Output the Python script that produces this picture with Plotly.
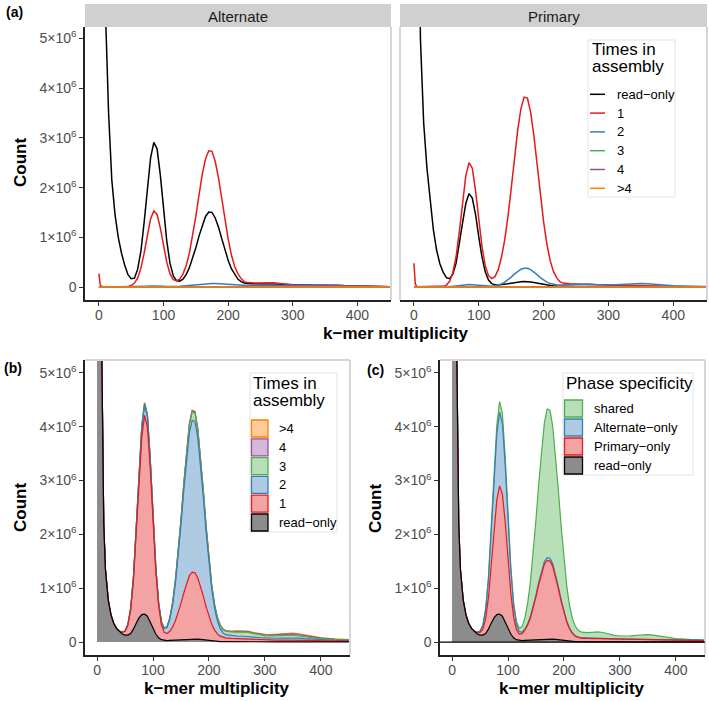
import plotly.graph_objects as go

# ------------------------------------------------------------------
# Data (counts in units of 10^6)
# ------------------------------------------------------------------
mult = [0, 2, 4, 6, 8, 10, 12, 15, 20, 25,
        30, 35, 40, 45, 50, 55, 60, 65, 70, 75,
        80, 85, 90, 95, 100, 105, 110, 115, 120, 125,
        130, 135, 140, 145, 150, 155, 160, 165, 170, 175,
        180, 185, 190, 195, 200, 205, 210, 215, 220, 225,
        230, 240, 250, 260, 270, 280, 290, 300, 310, 320,
        330, 340, 350, 360, 370, 380, 390, 400, 425, 450]

# sparse grid for the near-zero series of panel (a)
mult_sparse = [0, 50, 100, 150, 175, 200, 250, 300, 350, 400, 450]

# (a) Alternate facet
alt_read = [60, 40, 24, 14, 8.5, 5.6, 4.6, 3.5, 2.15, 1.45,
            1.0, 0.68, 0.44, 0.25, 0.17, 0.18, 0.36, 0.72, 1.3, 1.99,
            2.6, 2.91, 2.78, 2.26, 1.57, 0.93, 0.48, 0.23, 0.13, 0.12,
            0.16, 0.25, 0.39, 0.57, 0.79, 1.03, 1.25, 1.42, 1.51, 1.5,
            1.39, 1.21, 0.98, 0.75, 0.54, 0.37, 0.25, 0.16, 0.11, 0.08,
            0.07, 0.06, 0.06, 0.06, 0.055, 0.05, 0.045, 0.04, 0.035, 0.032,
            0.03, 0.03, 0.03, 0.028, 0.025, 0.022, 0.02, 0.018, 0.012, 0.008]
alt_one = [0.27, 0.05, 0.015, 0.005, 0.005, 0.005, 0.005, 0.005, 0.005, 0.005,
           0.005, 0.005, 0.005, 0.01, 0.03, 0.08, 0.18, 0.38, 0.68, 1.04,
           1.37, 1.53, 1.46, 1.19, 0.83, 0.5, 0.27, 0.15, 0.13, 0.16,
           0.26, 0.43, 0.68, 1.02, 1.42, 1.86, 2.27, 2.58, 2.74, 2.73,
           2.53, 2.2, 1.78, 1.35, 0.97, 0.65, 0.42, 0.27, 0.17, 0.11,
           0.09, 0.08, 0.085, 0.09, 0.085, 0.07, 0.055, 0.045, 0.04, 0.04,
           0.045, 0.05, 0.05, 0.045, 0.04, 0.03, 0.025, 0.02, 0.012, 0.008]
alt_two = [0.003, 0.003, 0.003, 0.003, 0.003, 0.003, 0.003, 0.003, 0.003, 0.003,
           0.003, 0.003, 0.003, 0.003, 0.003, 0.005, 0.008, 0.011, 0.015, 0.018,
           0.02, 0.022, 0.021, 0.018, 0.015, 0.012, 0.01, 0.01, 0.012, 0.015,
           0.02, 0.027, 0.035, 0.043, 0.05, 0.058, 0.065, 0.07, 0.075, 0.074,
           0.07, 0.065, 0.06, 0.053, 0.045, 0.04, 0.035, 0.032, 0.03, 0.03,
           0.03, 0.035, 0.04, 0.045, 0.04, 0.035, 0.03, 0.028, 0.028, 0.03,
           0.033, 0.035, 0.035, 0.032, 0.028, 0.022, 0.018, 0.015, 0.01, 0.007]
alt_three = [0.002, 0.002, 0.003, 0.004, 0.005, 0.004, 0.006, 0.005, 0.006, 0.004, 0.002]
alt_four = [0.001, 0.001, 0.002, 0.002, 0.003, 0.002, 0.003, 0.003, 0.003, 0.002, 0.001]
alt_more = [0.001, 0.001, 0.001, 0.001, 0.002, 0.001, 0.002, 0.002, 0.002, 0.001, 0.001]

# (a) Primary facet
pri_read = [60, 40, 22, 12.5, 7.5, 5.0, 4.2, 3.3, 2.4, 1.72,
            1.15, 0.74, 0.47, 0.3, 0.19, 0.17, 0.26, 0.48, 0.85, 1.29,
            1.68, 1.88, 1.79, 1.46, 1.01, 0.6, 0.31, 0.14, 0.07, 0.045,
            0.04, 0.045, 0.055, 0.066, 0.078, 0.09, 0.1, 0.107, 0.11, 0.11,
            0.104, 0.094, 0.08, 0.066, 0.052, 0.04, 0.031, 0.024, 0.02, 0.017,
            0.015, 0.013, 0.012, 0.012, 0.011, 0.01, 0.009, 0.009, 0.008, 0.008,
            0.008, 0.008, 0.008, 0.007, 0.007, 0.006, 0.006, 0.005, 0.005, 0.004]
pri_one = [0.48, 0.07, 0.015, 0.004, 0.004, 0.004, 0.004, 0.004, 0.004, 0.004,
           0.004, 0.004, 0.005, 0.015, 0.04, 0.115, 0.29, 0.61, 1.11, 1.7,
           2.24, 2.5, 2.39, 1.94, 1.35, 0.81, 0.43, 0.23, 0.17, 0.21,
           0.35, 0.6, 0.95, 1.41, 1.98, 2.58, 3.15, 3.59, 3.82, 3.8,
           3.52, 3.04, 2.46, 1.86, 1.31, 0.87, 0.54, 0.32, 0.19, 0.11,
           0.08, 0.065, 0.06, 0.065, 0.06, 0.05, 0.04, 0.035, 0.03, 0.028,
           0.028, 0.03, 0.03, 0.028, 0.025, 0.02, 0.016, 0.013, 0.008, 0.005]
pri_two = [0.005, 0.005, 0.005, 0.005, 0.005, 0.005, 0.005, 0.005, 0.005, 0.005,
           0.005, 0.005, 0.005, 0.006, 0.008, 0.01, 0.015, 0.022, 0.03, 0.04,
           0.047, 0.05, 0.048, 0.042, 0.033, 0.024, 0.017, 0.014, 0.016, 0.025,
           0.04, 0.062, 0.1, 0.145, 0.2, 0.26, 0.315, 0.358, 0.38, 0.378,
           0.35, 0.305, 0.25, 0.19, 0.14, 0.1, 0.07, 0.052, 0.045, 0.043,
           0.045, 0.052, 0.06, 0.065, 0.062, 0.052, 0.045, 0.043, 0.045, 0.052,
           0.062, 0.07, 0.07, 0.065, 0.055, 0.042, 0.032, 0.025, 0.015, 0.01]
pri_three = [0.003, 0.004, 0.006, 0.008, 0.01, 0.009, 0.012, 0.011, 0.013, 0.009, 0.005]
pri_four = [0.001, 0.001, 0.002, 0.003, 0.003, 0.003, 0.004, 0.004, 0.005, 0.003, 0.002]
pri_more = [0.001, 0.001, 0.001, 0.002, 0.002, 0.002, 0.003, 0.003, 0.003, 0.002, 0.001]

# (b)/(c) combined assembly: read-only k-mers (shared by both panels)
comb_read = [60, 35, 18, 9.5, 5.8, 3.3, 2.2, 1.35, 0.78, 0.5,
             0.34, 0.25, 0.19, 0.15, 0.13, 0.13, 0.16, 0.24, 0.35, 0.45,
             0.51, 0.52, 0.48, 0.38, 0.26, 0.15, 0.08, 0.045, 0.03, 0.028,
             0.03, 0.033, 0.038, 0.043, 0.048, 0.052, 0.055, 0.057, 0.058, 0.057,
             0.054, 0.049, 0.042, 0.035, 0.028, 0.022, 0.017, 0.013, 0.01, 0.009,
             0.008, 0.007, 0.007, 0.006, 0.006, 0.005, 0.005, 0.005, 0.004, 0.004,
             0.004, 0.004, 0.004, 0.004, 0.003, 0.003, 0.003, 0.003, 0.003, 0.003]

# (b) times in assembly (stacked increments)
comb_one = [0.002, 0.002, 0.002, 0.002, 0.002, 0.002, 0.002, 0.002, 0.002, 0.002,
            0.003, 0.005, 0.01, 0.03, 0.07, 0.18, 0.43, 0.9, 1.63, 2.51,
            3.3, 3.69, 3.52, 2.86, 1.98, 1.17, 0.6, 0.28, 0.15, 0.13,
            0.17, 0.25, 0.36, 0.5, 0.67, 0.86, 1.04, 1.18, 1.24, 1.23,
            1.14, 0.99, 0.81, 0.62, 0.45, 0.31, 0.21, 0.14, 0.1, 0.08,
            0.07, 0.06, 0.055, 0.052, 0.05, 0.045, 0.04, 0.037, 0.035, 0.034,
            0.034, 0.035, 0.035, 0.033, 0.03, 0.027, 0.024, 0.022, 0.018, 0.015]
comb_two = [0.001, 0.001, 0.001, 0.001, 0.001, 0.001, 0.001, 0.001, 0.001, 0.001,
            0.001, 0.002, 0.002, 0.003, 0.005, 0.012, 0.025, 0.05, 0.09, 0.136,
            0.178, 0.2, 0.19, 0.155, 0.108, 0.065, 0.045, 0.045, 0.07, 0.11,
            0.22, 0.41, 0.69, 1.03, 1.45, 1.9, 2.33, 2.65, 2.82, 2.81,
            2.6, 2.25, 1.82, 1.37, 0.97, 0.64, 0.4, 0.24, 0.14, 0.085,
            0.06, 0.05, 0.048, 0.05, 0.048, 0.042, 0.036, 0.033, 0.032, 0.033,
            0.036, 0.039, 0.04, 0.037, 0.032, 0.027, 0.022, 0.018, 0.013, 0.01]
comb_three = [0.001, 0.001, 0.001, 0.001, 0.001, 0.001, 0.001, 0.001, 0.001, 0.001,
              0.001, 0.001, 0.001, 0.002, 0.002, 0.002, 0.002, 0.004, 0.008, 0.015,
              0.025, 0.03, 0.028, 0.022, 0.015, 0.01, 0.008, 0.008, 0.01, 0.014,
              0.02, 0.03, 0.045, 0.065, 0.088, 0.11, 0.132, 0.15, 0.16, 0.16,
              0.152, 0.138, 0.12, 0.1, 0.082, 0.068, 0.06, 0.057, 0.057, 0.058,
              0.06, 0.068, 0.076, 0.08, 0.076, 0.065, 0.053, 0.045, 0.042, 0.042,
              0.045, 0.048, 0.048, 0.044, 0.038, 0.031, 0.025, 0.02, 0.013, 0.008]
comb_four = [0, 0, 0, 0, 0, 0, 0, 0, 0, 0,
             0, 0, 0, 0, 0, 0, 0, 0.001, 0.001, 0.002,
             0.002, 0.003, 0.003, 0.002, 0.002, 0.001, 0.001, 0.001, 0.002, 0.003,
             0.004, 0.006, 0.009, 0.012, 0.015, 0.018, 0.02, 0.022, 0.023, 0.023,
             0.022, 0.02, 0.017, 0.014, 0.012, 0.01, 0.009, 0.009, 0.009, 0.01,
             0.01, 0.011, 0.013, 0.015, 0.014, 0.012, 0.012, 0.013, 0.015, 0.018,
             0.021, 0.024, 0.025, 0.023, 0.02, 0.016, 0.013, 0.01, 0.006, 0.004]
comb_more = [0, 0, 0, 0, 0, 0, 0, 0, 0, 0,
             0, 0, 0, 0, 0, 0, 0, 0, 0, 0.001,
             0.001, 0.001, 0.001, 0.001, 0.001, 0.001, 0.001, 0.001, 0.001, 0.001,
             0.002, 0.002, 0.003, 0.003, 0.004, 0.004, 0.005, 0.005, 0.005, 0.005,
             0.005, 0.005, 0.005, 0.005, 0.005, 0.005, 0.005, 0.005, 0.005, 0.005,
             0.006, 0.007, 0.008, 0.009, 0.009, 0.009, 0.009, 0.01, 0.011, 0.012,
             0.013, 0.014, 0.014, 0.013, 0.012, 0.011, 0.01, 0.009, 0.007, 0.006]

# (c) phase specificity (stacked increments)
phase_pri = [0.002, 0.002, 0.002, 0.002, 0.002, 0.002, 0.002, 0.002, 0.002, 0.002,
             0.003, 0.005, 0.01, 0.025, 0.05, 0.11, 0.27, 0.58, 1.05, 1.62,
             2.13, 2.38, 2.27, 1.85, 1.28, 0.76, 0.39, 0.19, 0.12, 0.13,
             0.19, 0.28, 0.41, 0.58, 0.79, 1.02, 1.23, 1.39, 1.46, 1.45,
             1.35, 1.17, 0.95, 0.72, 0.52, 0.35, 0.23, 0.15, 0.1, 0.075,
             0.065, 0.06, 0.058, 0.057, 0.055, 0.052, 0.049, 0.047, 0.045, 0.044,
             0.043, 0.042, 0.041, 0.039, 0.037, 0.035, 0.033, 0.031, 0.027, 0.024]
phase_alt = [0.001, 0.001, 0.001, 0.001, 0.001, 0.001, 0.001, 0.001, 0.001, 0.001,
             0.001, 0.002, 0.004, 0.008, 0.02, 0.06, 0.16, 0.33, 0.6, 0.93,
             1.22, 1.37, 1.3, 1.06, 0.73, 0.43, 0.22, 0.1, 0.045, 0.025,
             0.02, 0.022, 0.026, 0.032, 0.038, 0.043, 0.047, 0.05, 0.052, 0.052,
             0.05, 0.045, 0.038, 0.03, 0.022, 0.016, 0.012, 0.01, 0.009, 0.008,
             0.008, 0.008, 0.007, 0.007, 0.007, 0.006, 0.006, 0.006, 0.006, 0.005,
             0.005, 0.005, 0.005, 0.005, 0.005, 0.004, 0.004, 0.004, 0.004, 0.004]
phase_shared = [0.001, 0.001, 0.001, 0.001, 0.001, 0.001, 0.001, 0.001, 0.001, 0.001,
                0.002, 0.002, 0.002, 0.004, 0.006, 0.012, 0.025, 0.05, 0.09, 0.136,
                0.178, 0.2, 0.19, 0.155, 0.108, 0.066, 0.045, 0.048, 0.065, 0.1,
                0.2, 0.38, 0.64, 0.99, 1.4, 1.84, 2.26, 2.58, 2.76, 2.75,
                2.55, 2.21, 1.79, 1.36, 0.97, 0.65, 0.42, 0.27, 0.18, 0.13,
                0.11, 0.1, 0.11, 0.12, 0.11, 0.085, 0.065, 0.055, 0.055, 0.062,
                0.075, 0.088, 0.09, 0.082, 0.068, 0.052, 0.038, 0.028, 0.015, 0.01]

times_labels = ["read−only", "1", "2", "3", "4", ">4"]
phase_labels = ["read−only", "Primary−only", "Alternate−only", "shared"]
y_ticks = [0, 1, 2, 3, 4, 5]
y_ticktext = ["0"] + [f"{v}×10<sup>6</sup>" for v in y_ticks[1:]]
x_ticks = [0, 100, 200, 300, 400]

# colours (Set1 + black for read-only)
line_cols = {"read−only": "#000000", "1": "#E41A1C", "2": "#377EB8",
             "3": "#4DAF4A", "4": "#984EA3", ">4": "#FF7F00"}
fill_cols = {"read−only": "rgba(0,0,0,0.45)", "1": "rgba(228,26,28,0.4)",
             "2": "rgba(55,126,184,0.4)", "3": "rgba(77,175,74,0.4)",
             "4": "rgba(152,78,163,0.4)", ">4": "rgba(255,127,0,0.4)"}
phase_key = {"read−only": "read−only", "Primary−only": "1",
             "Alternate−only": "2", "shared": "3"}

FONT = "Liberation Sans, Arial, Helvetica, sans-serif"
W, H = 709, 701


def px(x):
    return x / W


def py(y):
    return 1 - y / H


fig = go.Figure()

# ======================================================
# (a) line plots, faceted
# ======================================================
alt_series = [(mult, alt_read), (mult, alt_one), (mult, alt_two),
              (mult_sparse, alt_three), (mult_sparse, alt_four), (mult_sparse, alt_more)]
pri_series = [(mult, pri_read), (mult, pri_one), (mult, pri_two),
              (mult_sparse, pri_three), (mult_sparse, pri_four), (mult_sparse, pri_more)]

for axes, series in [(("x", "y"), alt_series), (("x2", "y2"), pri_series)]:
    for lab, (xs, ys) in zip(times_labels, series):
        fig.add_trace(go.Scatter(
            x=xs, y=ys, mode="lines", line=dict(color=line_cols[lab], width=1.5),
            xaxis=axes[0], yaxis=axes[1], showlegend=False, hoverinfo="skip"))


# ======================================================
# (b), (c) stacked areas
# fills in one stack; outlines drawn top layer first (like ggplot),
# each outline from its own stack so lower outlines sit on top
# ======================================================
def stacked(name, keys, series, xa, ya):
    for k, ys in zip(keys, series):
        fig.add_trace(go.Scatter(
            x=mult, y=ys, mode="none", stackgroup=name + "_fill",
            fillcolor=fill_cols[k], xaxis=xa, yaxis=ya,
            showlegend=False, hoverinfo="skip"))
    for top in range(len(series) - 1, -1, -1):
        for j in range(top + 1):
            fig.add_trace(go.Scatter(
                x=mult, y=series[j], stackgroup=f"{name}_line{top}", fill="none",
                mode="lines" if j == top else "none",
                line=dict(color=line_cols[keys[j]], width=1.2),
                xaxis=xa, yaxis=ya, showlegend=False, hoverinfo="skip"))


stacked("b", times_labels,
        [comb_read, comb_one, comb_two, comb_three, comb_four, comb_more], "x3", "y3")
stacked("c", [phase_key[p] for p in phase_labels],
        [comb_read, phase_pri, phase_alt, phase_shared], "x4", "y4")

# ======================================================
# Axes
# ======================================================
tickfont = dict(family=FONT, size=14, color="#4D4D4D")


def xaxis(dom, anchor):
    return dict(domain=dom, anchor=anchor, range=[-21.5, 452], tickvals=x_ticks,
                ticks="outside", ticklen=4, tickwidth=1.2, tickcolor="#333",
                ticklabelstandoff=-3,
                showline=True, linecolor="#222", linewidth=1.5, automargin=False,
                showgrid=False, zeroline=False, tickfont=tickfont)


def yaxis(dom, anchor, rng, labels=True):
    d = dict(domain=dom, anchor=anchor, range=rng, tickvals=y_ticks, ticktext=y_ticktext,
             showgrid=False, zeroline=False, tickfont=tickfont, automargin=False)
    if labels:
        d.update(ticks="outside", ticklen=4, tickwidth=1.2, tickcolor="#333",
                 showline=True, linecolor="#222", linewidth=1.5)
    else:
        d.update(showticklabels=False, ticks="", showline=False)
    return d


ya_dom = [py(300), py(27)]
yb_dom = [py(655), py(360)]

fig.update_layout(
    xaxis=xaxis([px(85), px(391)], "y"),
    yaxis=yaxis(ya_dom, "x", [-0.26, 5.23]),
    xaxis2=xaxis([px(400), px(707)], "y2"),
    yaxis2=yaxis(ya_dom, "x2", [-0.26, 5.23], labels=False),
    xaxis3=xaxis([px(85), px(350)], "y3"),
    yaxis3=yaxis(yb_dom, "x3", [-0.24, 5.24]),
    xaxis4=xaxis([px(440), px(705)], "y4"),
    yaxis4=yaxis(yb_dom, "x4", [-0.24, 5.24]),
)

# ======================================================
# Decorations: strips, borders, legends, titles
# ======================================================
shapes = []
annots = []
border = dict(color="#D6D6D6", width=2)


def pline(x0, y0, x1, y1, line):
    shapes.append(dict(type="line", xref="paper", yref="paper",
                       x0=px(x0), y0=py(y0), x1=px(x1), y1=py(y1), line=line))


def prect(x0, y0, x1, y1, fill, line):
    shapes.append(dict(type="rect", xref="paper", yref="paper",
                       x0=px(x0), y0=py(y0), x1=px(x1), y1=py(y1),
                       fillcolor=fill, line=line))


def text(x, y, s, size, bold=False, xanchor="left", angle=0, color="#000"):
    if bold:
        s = f"<b>{s}</b>"
    annots.append(dict(x=px(x), y=py(y), xref="paper", yref="paper", text=s,
                       showarrow=False, xanchor=xanchor, yanchor="middle",
                       textangle=angle, font=dict(family=FONT, size=size, color=color)))


# facet strips
prect(85, 4, 391, 27, "#D0D0D0", dict(width=0))
prect(400, 4, 707, 27, "#D0D0D0", dict(width=0))
text(238, 16, "Alternate", 15, xanchor="center", color="#1A1A1A")
text(553.5, 16, "Primary", 15, xanchor="center", color="#1A1A1A")

# panel borders
pline(391, 27, 391, 300, border)
pline(400, 27, 400, 300, border)
pline(707, 27, 707, 300, border)
pline(85, 360, 350, 360, border)
pline(350, 360, 350, 655, border)
pline(440, 360, 705, 360, border)
pline(705, 360, 705, 655, border)

# zero line in (c)
shapes.append(dict(type="line", xref="x4 domain", yref="y4", x0=0, x1=1, y0=0, y1=0,
                   line=dict(color="#000", width=1.2)))

# legend (a)
prect(588, 40, 675, 197, "white", dict(color="#E3E3E3", width=1))
text(590, 49.5, "Times in", 17)
text(590, 66.5, "assembly", 17)
for i, lab in enumerate(times_labels):
    yy = 94.3 + 18.8 * i
    pline(590, yy, 605, yy, dict(color=line_cols[lab], width=1.5))
    text(615, yy, lab, 13)

# legend (b)
prect(250, 373, 337, 532, "white", dict(color="#E3E3E3", width=1))
text(251, 383, "Times in", 17)
text(251, 400, "assembly", 17)
for i, lab in enumerate(times_labels[::-1]):
    yy = 428.5 + 18.8 * i
    prect(251.5, yy - 8.5, 268, yy + 8.5, fill_cols[lab], dict(color=line_cols[lab], width=1.3))
    text(277, yy, lab, 13)

# legend (c)
prect(563, 373, 693, 475, "white", dict(color="#E3E3E3", width=1))
text(564, 383, "Phase specificity", 17)
for i, lab in enumerate(phase_labels[::-1]):
    yy = 408.5 + 19 * i
    k = phase_key[lab]
    prect(564.5, yy - 8.5, 582.5, yy + 8.5, fill_cols[k], dict(color=line_cols[k], width=1.3))
    text(592, yy, lab, 13)

# axis titles and panel tags
text(20, 163, "Count", 17, bold=True, xanchor="center", angle=-90)
text(20, 508, "Count", 17, bold=True, xanchor="center", angle=-90)
text(375, 508, "Count", 17, bold=True, xanchor="center", angle=-90)
text(396, 333, "k−mer multiplicity", 17, bold=True, xanchor="center")
text(217, 688, "k−mer multiplicity", 17, bold=True, xanchor="center")
text(572, 688, "k−mer multiplicity", 17, bold=True, xanchor="center")
text(4, 12, "(a)", 14, bold=True)
text(2, 368, "(b)", 14, bold=True)
text(365, 370, "(c)", 14, bold=True)

fig.update_layout(
    width=W, height=H, autosize=False,
    margin=dict(l=0, r=0, t=0, b=0),
    paper_bgcolor="white", plot_bgcolor="white",
    font=dict(family=FONT),
    showlegend=False,
    shapes=shapes, annotations=annots,
)

# drop the browser's default 8px body margin so the 709x701 figure fills the window
fig.write_html("out.html", config={"displayModeBar": False},
               post_script="document.body.style.margin = '0';")
